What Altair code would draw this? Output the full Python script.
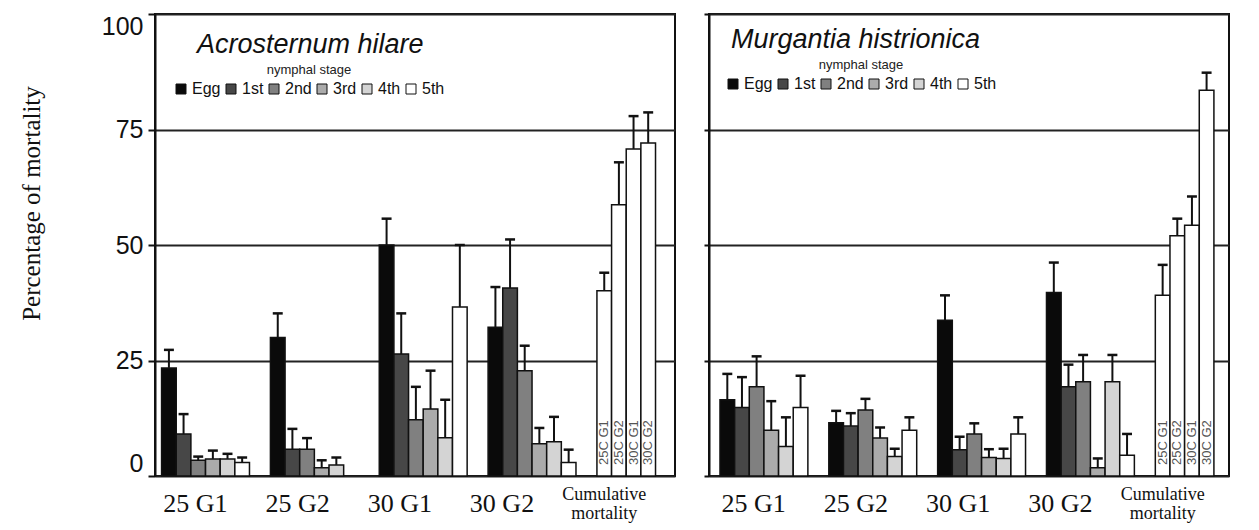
import altair as alt
import pandas as pd

# ---------------- data ----------------
stages = ["Egg", "1st", "2nd", "3rd", "4th", "5th"]
groups = ["25 G1", "25 G2", "30 G1", "30 G2"]
cum_labels = ["25C G1", "25C G2", "30C G1", "30C G2"]

# Acrosternum hilare: mean % mortality per stage, per group
ah_25g1 = [23.4, 9.1, 3.4, 3.7, 3.7, 2.9]
ah_25g2 = [30.0, 5.8, 5.8, 1.8, 2.4, None]
ah_30g1 = [50.0, 26.4, 12.2, 14.5, 8.3, 36.6]
ah_30g2 = [32.2, 40.7, 22.8, 7.0, 7.4, 2.9]
ah_cum = [40.1, 58.7, 70.8, 72.1]
# standard errors
ah_25g1_se = [3.9, 4.3, 0.8, 1.8, 1.1, 1.1]
ah_25g2_se = [5.2, 4.4, 2.4, 1.6, 1.6, None]
ah_30g1_se = [5.7, 8.8, 7.1, 8.3, 8.2, 13.4]
ah_30g2_se = [8.7, 10.5, 5.4, 3.4, 5.4, 2.8]
ah_cum_se = [3.9, 9.2, 7.1, 6.6]

# Murgantia histrionica
mh_25g1 = [16.5, 14.8, 19.3, 9.9, 6.4, 14.8]
mh_25g2 = [11.5, 10.8, 14.3, 8.2, 4.2, 9.9]
mh_30g1 = [33.7, 5.7, 9.1, 4.0, 3.8, 9.1]
mh_30g2 = [39.7, 19.3, 20.4, 1.8, 20.4, 4.5]
mh_cum = [39.1, 52.0, 54.3, 83.5]
mh_25g1_se = [5.6, 6.6, 6.6, 6.3, 6.3, 6.9]
mh_25g2_se = [2.6, 2.8, 2.4, 2.3, 1.7, 2.8]
mh_30g1_se = [5.4, 2.8, 2.3, 1.8, 2.1, 3.6]
mh_30g2_se = [6.5, 4.8, 5.8, 2.0, 5.8, 4.6]
mh_cum_se = [6.6, 3.7, 6.2, 3.8]

stage_colors = ["#0a0a0a", "#474747", "#808080", "#ababab", "#d4d4d4", "#ffffff"]

# ---------------- layout helpers ----------------
STEP = 7.43      # group step in bar-width units
CAP = 0.34       # half width of error-bar caps
XMAX = 35.5
W, H = 520, 462


def build(means, ses, cum, cum_se, off):
    rows, crow, lab = [], [], []
    for g, (m_list, s_list) in enumerate(zip(means, ses)):
        for s, (m, e) in enumerate(zip(m_list, s_list)):
            if m is None:
                continue
            x0 = off + g * STEP + s
            rows.append(dict(group=groups[g], stage=stages[s], mean=m, top=m + e, zero=0,
                             x0=x0, x1=x0 + 1, xc=x0 + 0.5,
                             c0=x0 + 0.5 - CAP, c1=x0 + 0.5 + CAP))
        lab.append(dict(label=groups[g], lx=off + g * STEP + 2.3 - 0.45 * g))
    for s, (m, e) in enumerate(zip(cum, cum_se)):
        x0 = off + 4 * STEP + s
        crow.append(dict(group="cum", stage=cum_labels[s], mean=m, top=m + e, zero=0,
                         x0=x0, x1=x0 + 1, xc=x0 + 0.5,
                         c0=x0 + 0.5 - CAP, c1=x0 + 0.5 + CAP))
    lab_cum = [dict(label="Cumulative\nmortality", lx=off + 4 * STEP + 2.3 - 0.45 * 4)]
    return pd.DataFrame(rows), pd.DataFrame(crow), pd.DataFrame(lab), pd.DataFrame(lab_cum)


def panel(means, ses, cum, cum_se, off, title, first, tpos, lpos):
    df, dc, dl, dlc = build(means, ses, cum, cum_se, off)
    both = pd.concat([df, dc], ignore_index=True)
    xs = alt.Scale(domain=[0, XMAX], nice=False, zero=False)
    ys = alt.Scale(domain=[0, 100], nice=False)
    if first:
        yaxis = alt.Axis(values=[0, 25, 50, 75, 100], labelFlush=True, labelFontSize=25,
                         labelFont="Liberation Sans", labelColor="#111", labelPadding=5,
                         tickSize=7, tickWidth=2, tickColor="#111",
                         domainColor="#111", domainWidth=2,
                         grid=True, gridColor="#222", gridWidth=2,
                         title="Percentage of mortality", titleFont="Liberation Serif",
                         titleFontSize=25, titleFontWeight="normal", titleColor="#111",
                         titlePadding=57, titleY=189)
    else:
        yaxis = alt.Axis(values=[0, 25, 50, 75, 100], labels=False, title=None,
                         tickSize=5, tickWidth=2, tickColor="#111",
                         domainColor="#111", domainWidth=2,
                         grid=True, gridColor="#222", gridWidth=2)

    def Y(field):
        return alt.Y(field, scale=ys, axis=yaxis)

    def X(field):
        return alt.X(field, scale=xs, axis=None)

    bars = alt.Chart(df).mark_bar(stroke="#111", strokeWidth=1.5).encode(
        x=X("x0:Q"), x2="x1:Q",
        y=Y("mean:Q"), y2="zero:Q",
        fill=alt.Fill("stage:N", scale=alt.Scale(domain=stages, range=stage_colors),
                      legend=alt.Legend(orient="none", legendX=lpos[0], legendY=lpos[1],
                                        direction="horizontal", title="nymphal stage",
                                        titleAnchor="middle", titleFont="Liberation Sans",
                                        titleFontSize=13, titleFontWeight="normal",
                                        titleColor="#222", titlePadding=4,
                                        symbolType="square", symbolSize=100,
                                        symbolStrokeColor="#111", symbolStrokeWidth=1,
                                        labelFont="Liberation Sans", labelFontSize=16,
                                        labelColor="#111", labelOffset=3,
                                        columnPadding=2, padding=0)),
    )
    cbars = alt.Chart(dc).mark_bar(stroke="#111", strokeWidth=1.5, fill="white").encode(
        x=X("x0:Q"), x2="x1:Q",
        y=Y("mean:Q"), y2="zero:Q",
    )
    err = alt.Chart(both).mark_rule(color="#111", strokeWidth=2).encode(
        x=X("xc:Q"),
        y=Y("mean:Q"), y2="top:Q",
    )
    caps = alt.Chart(both).mark_rule(color="#111", strokeWidth=2.5).encode(
        x=X("c0:Q"), x2="c1:Q",
        y=Y("top:Q"),
    )
    ctext = alt.Chart(dc).mark_text(angle=270, align="left", baseline="middle",
                                    font="Liberation Sans", fontSize=13, color="#555",
                                    dx=11).encode(
        x=X("xc:Q"),
        y=Y("zero:Q"),
        text="stage:N",
    )
    xlab = alt.Chart(dl).mark_text(font="Liberation Serif", fontSize=26, color="#111",
                                   baseline="alphabetic").encode(
        x=X("lx:Q"),
        y=alt.value(H + 36),
        text="label:N",
    )
    xlabc = alt.Chart(dlc).mark_text(font="Liberation Serif", fontSize=18, color="#111",
                                     baseline="alphabetic", lineBreak="\n",
                                     lineHeight=19).encode(
        x=X("lx:Q"),
        y=alt.value(H + 24),
        text="label:N",
    )
    ttl = alt.Chart(pd.DataFrame({"t": [title]})).mark_text(
        font="Liberation Sans", fontStyle="italic", fontSize=27, color="#111",
        align="left", baseline="alphabetic").encode(
        x=alt.value(tpos[0]), y=alt.value(tpos[1]), text="t:N")
    return alt.layer(bars, cbars, err, caps, ctext, xlab, xlabc, ttl).properties(
        width=W, height=H)


left = panel([ah_25g1, ah_25g2, ah_30g1, ah_30g2],
             [ah_25g1_se, ah_25g2_se, ah_30g1_se, ah_30g2_se],
             ah_cum, ah_cum_se, 0.45, "Acrosternum hilare", True, (42, 39), (18, 50))
right = panel([mh_25g1, mh_25g2, mh_30g1, mh_30g2],
              [mh_25g1_se, mh_25g2_se, mh_30g1_se, mh_30g2_se],
              mh_cum, mh_cum_se, 0.75, "Murgantia histrionica", False, (22, 34), (16, 45))

chart = alt.hconcat(left, right, spacing=26).resolve_scale(
    fill="independent", x="independent"
).resolve_legend(fill="independent").properties(
    padding={"left": 18, "top": 12, "right": 5, "bottom": 5},
    background="white",
).configure_view(stroke="#111", strokeWidth=2)

chart.save("out.html", embed_options={"renderer": "svg", "actions": False})
